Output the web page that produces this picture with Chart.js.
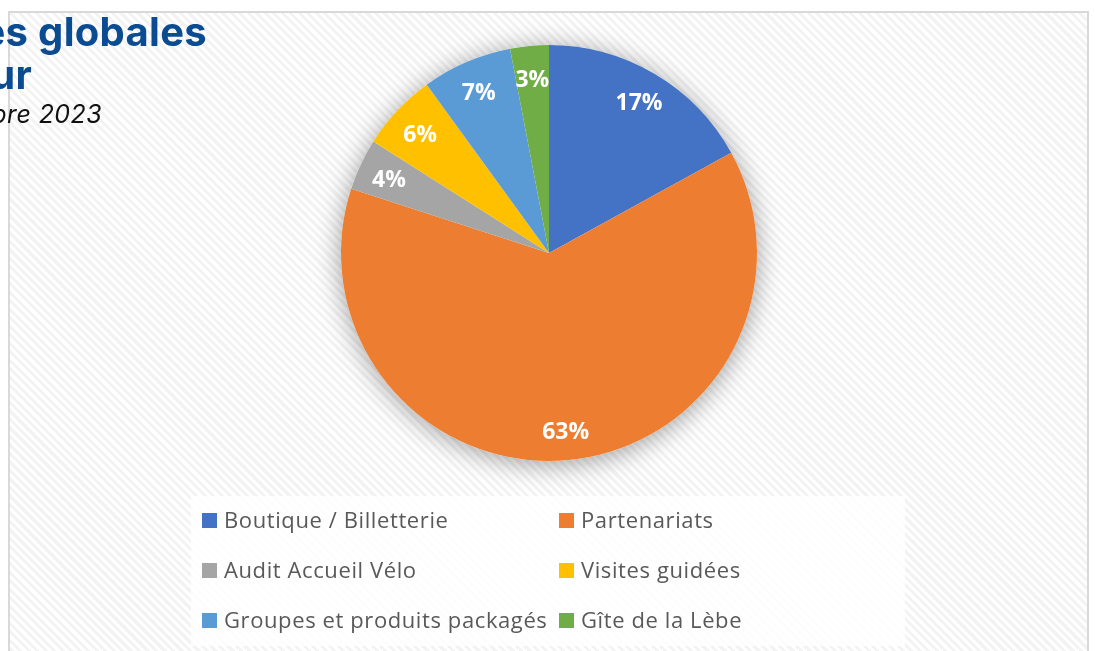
<!DOCTYPE html>
<html lang="fr">
<head>
<meta charset="utf-8">
<script src="https://cdn.jsdelivr.net/npm/chart.js@4/dist/chart.umd.min.js"></script>
<style>
  html, body { margin: 0; padding: 0; background: #fff; }
  body { width: 1095px; height: 651px; position: relative; overflow: hidden; }
  #frame {
    position: absolute; left: 8px; top: 11px; width: 1081px; height: 680px;
    box-sizing: border-box; border: 2px solid #d9d9d9;
    background: repeating-linear-gradient(45deg, #ffffff 0 3px, #f3f3f3 3px 6px);
  }
  #chart { position: absolute; left: 0; top: 0; }
  .title { position: absolute; white-space: nowrap; text-align: right; font-family: Inter, sans-serif; }
  .big { font-size: 40px; line-height: 40px; font-weight: 700; color: #0a4b91; letter-spacing: 0.3px; }
  .sub { font-size: 25px; line-height: 25px; font-style: italic; color: #111; letter-spacing: 0.4px; }
</style>
</head>
<body>
<div id="frame"></div>
<canvas id="chart" width="1095" height="651"></canvas>
<div class="title big" style="right: 888px; top: 12px;">es globales</div>
<div class="title big" style="right: 1063px; top: 55px;">ur</div>
<div class="title sub" style="right: 993px; top: 102px;">bre 2023</div>

<script>
const categories = [
  "Boutique / Billetterie",
  "Partenariats",
  "Audit Accueil Vélo",
  "Visites guidées",
  "Groupes et produits packagés",
  "Gîte de la Lèbe"
];
const shares = [17, 63, 4, 6, 7, 3];
const colors = ["#4472C4", "#ED7D31", "#A5A5A5", "#FFC000", "#5B9BD5", "#70AD47"];

// soft halo behind the pie
const pieShadow = {
  id: 'pieShadow',
  beforeDatasetsDraw(chart) {
    const arc = chart.getDatasetMeta(0).data[0];
    const ctx = chart.ctx;
    ctx.save();
    ctx.shadowColor = 'rgba(0,0,0,0.38)';
    ctx.shadowBlur = 26;
    ctx.shadowOffsetY = 3;
    ctx.fillStyle = '#ffffff';
    ctx.beginPath();
    ctx.arc(arc.x, arc.y, arc.outerRadius, 0, Math.PI * 2);
    ctx.fill();
    ctx.restore();
  }
};

// percentage labels inside each slice
const sliceLabels = {
  id: 'sliceLabels',
  afterDatasetsDraw(chart) {
    const ctx = chart.ctx;
    ctx.save();
    ctx.fillStyle = '#ffffff';
    ctx.font = 'bold 23px "Open Sans", sans-serif';
    ctx.textAlign = 'center';
    ctx.textBaseline = 'middle';
    chart.getDatasetMeta(0).data.forEach((arc, i) => {
      const mid = (arc.startAngle + arc.endAngle) / 2;
      const r = arc.outerRadius * 0.85;
      ctx.fillText(shares[i] + '%', arc.x + Math.cos(mid) * r, arc.y + Math.sin(mid) * r + 3);
    });
    ctx.restore();
  }
};

// two-column legend under the pie
const gridLegend = {
  id: 'gridLegend',
  afterDraw(chart) {
    const ctx = chart.ctx;
    const box = {x: 191, y: 496, w: 714, h: 150};
    const cols = [202, 559];
    const rowTop = 513, rowGap = 50, square = 15;
    ctx.save();
    ctx.fillStyle = 'rgba(255,255,255,0.8)';
    ctx.fillRect(box.x, box.y, box.w, box.h);
    ctx.font = '22px "Open Sans", sans-serif';
    ctx.letterSpacing = '0.6px';
    ctx.textBaseline = 'middle';
    categories.forEach((name, i) => {
      const x = cols[i % 2];
      const y = rowTop + Math.floor(i / 2) * rowGap;
      ctx.fillStyle = colors[i];
      ctx.fillRect(x, y, square, square);
      ctx.fillStyle = '#595959';
      ctx.fillText(name, x + square + 7, y + square / 2 + 1);
    });
    ctx.restore();
  }
};

new Chart(document.getElementById('chart'), {
  type: 'pie',
  data: {
    labels: categories,
    datasets: [{
      data: shares,
      backgroundColor: colors,
      borderWidth: 0
    }]
  },
  options: {
    responsive: false,
    animation: false,
    layout: {padding: {left: 341, right: 338, top: 45, bottom: 190}},
    plugins: {
      legend: {display: false},
      tooltip: {enabled: false}
    }
  },
  plugins: [pieShadow, sliceLabels, gridLegend]
});
</script>
</body>
</html>
